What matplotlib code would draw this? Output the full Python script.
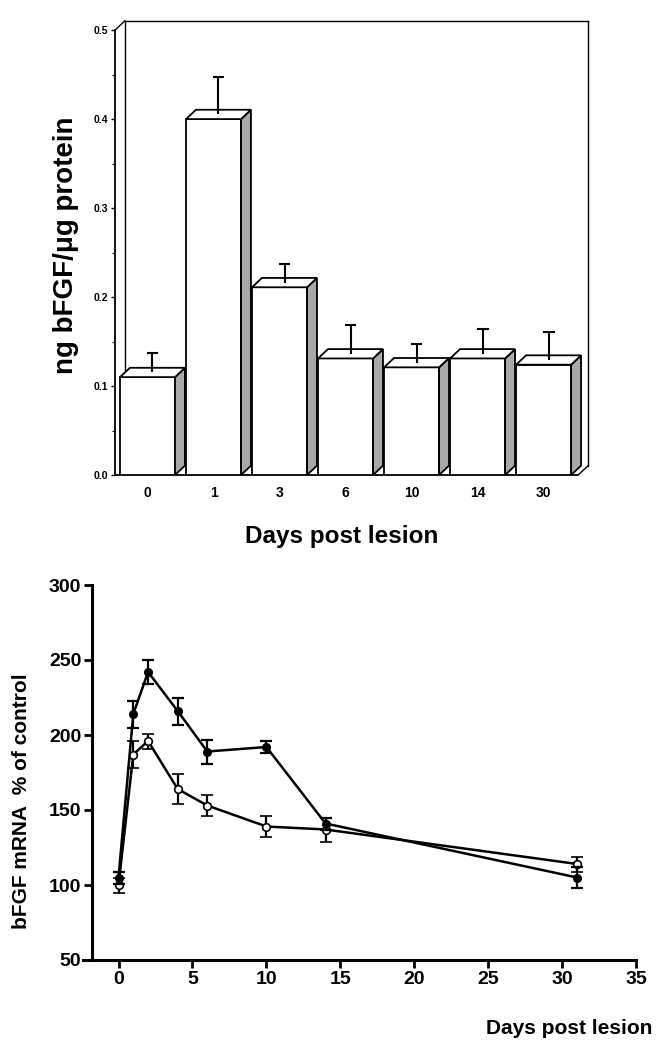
import matplotlib
matplotlib.use("Agg")
import matplotlib.pyplot as plt
import numpy as np
from matplotlib.patches import Polygon

plt.rcParams["font.family"] = ["Liberation Sans", "DejaVu Sans"]
plt.rcParams["font.weight"] = "bold"

# top panel: bFGF protein per day
day_labels = ["0", "1", "3", "6", "10", "14", "30"]
protein = [0.110, 0.400, 0.211, 0.131, 0.121, 0.131, 0.124]
protein_sem = [0.027, 0.047, 0.026, 0.038, 0.026, 0.033, 0.037]

# bottom panel: bFGF mRNA (% of control)
days = [0, 1, 2, 4, 6, 10, 14, 31]
mrna_filled = [105, 214, 242, 216, 189, 192, 141, 105]
mrna_filled_err = [4, 9, 8, 9, 8, 4, 4, 7]
mrna_open = [100, 187, 196, 164, 153, 139, 137, 114]
mrna_open_err = [5, 9, 5, 10, 7, 7, 8, 5]

W, H = 664, 1043
fig = plt.figure(figsize=(W / 100, H / 100), dpi=100)

# ---- top: pseudo-3D bar chart ----
ax1 = fig.add_axes([115 / W, 1 - 475 / H, 485 / W, 460 / H])
ax1.set_xlim(-0.076, 7.27)
ax1.set_ylim(0, 0.517)

bw = 0.833             # front face width
dx, dy = 0.15, 0.0105  # depth offset
x0 = np.arange(len(protein))
vals = np.array(protein)
lw = 1.3

# back walls of the box
xl, xr = -0.076, 6.94
ax1.plot([xl + dx, xl + dx], [0, 0.5 + dy], color="black", lw=1.0, zorder=1)
ax1.plot([xl, xl + dx], [0.5, 0.5 + dy], color="black", lw=1.0, zorder=1)
ax1.plot([xl + dx, xr + dx], [0.5 + dy, 0.5 + dy], color="black", lw=1.0, zorder=1)
ax1.plot([xr + dx, xr + dx], [0.5 + dy, dy], color="black", lw=1.0, zorder=1)
ax1.plot([xr, xr + dx], [0, dy], color="black", lw=1.0, zorder=1)

ax1.bar(x0, vals, width=bw, align="edge", facecolor="white",
        edgecolor="black", lw=lw, zorder=3)
for xi, v in zip(x0, vals):
    side = Polygon([(xi + bw, 0), (xi + bw + dx, dy), (xi + bw + dx, v + dy), (xi + bw, v)],
                   closed=True, facecolor="#a8a8a8", edgecolor="black", lw=lw, zorder=3)
    top = Polygon([(xi, v), (xi + dx, v + dy), (xi + bw + dx, v + dy), (xi + bw, v)],
                  closed=True, facecolor="white", edgecolor="black", lw=lw, zorder=3)
    ax1.add_patch(side)
    ax1.add_patch(top)

# error bars: stem from the middle of the top face, cap only at the top
ex = x0 + bw / 2 + dx / 2
etop = vals + np.array(protein_sem)
ax1.vlines(ex, vals + dy / 2, etop, color="black", lw=1.5, zorder=4)
ax1.hlines(etop, ex - 0.09, ex + 0.09, color="black", lw=1.5, zorder=4)

for s in ["top", "right"]:
    ax1.spines[s].set_visible(False)
ax1.spines["left"].set_bounds(0, 0.5)
ax1.spines["bottom"].set_bounds(xl, xr)
ax1.spines["left"].set_linewidth(1.3)
ax1.spines["bottom"].set_linewidth(1.3)
ax1.set_yticks(np.arange(0, 0.51, 0.1))
ax1.set_yticks(np.arange(0.05, 0.5, 0.1), minor=True)
ax1.set_yticklabels(["0.0", "0.1", "0.2", "0.3", "0.4", "0.5"], fontsize=7.5, fontweight="bold")
ax1.tick_params(axis="y", which="major", length=3, width=1, pad=2)
ax1.tick_params(axis="y", which="minor", length=2, width=0.8)
ax1.set_xticks(x0 + bw / 2)
ax1.set_xticklabels(day_labels, fontsize=10, fontweight="bold")
ax1.tick_params(axis="x", length=0, pad=8)

fig.text(66 / W, 1 - 245 / H, "ng bFGF/\u03bcg protein", rotation=90,
         ha="center", va="center", fontsize=20, fontweight="bold")
fig.text(342 / W, 1 - 537 / H, "Days post lesion", ha="center", va="center",
         fontsize=17.5, fontweight="bold")

# ---- bottom: mRNA time course ----
ax2 = fig.add_axes([83 / W, 1 - 960 / H, 568 / W, 382.5 / H])
ax2.set_xlim(-2.4, 36)
ax2.set_ylim(50, 305)

ax2.errorbar(days, mrna_open, yerr=mrna_open_err, color="black", lw=1.8,
             marker="o", ms=5.5, mfc="white", mec="black", mew=1.2,
             ecolor="black", elinewidth=1.6, capsize=4, capthick=1.6, zorder=3)
ax2.errorbar(days, mrna_filled, yerr=mrna_filled_err, color="black", lw=1.8,
             marker="o", ms=5.5, mfc="black", mec="black",
             ecolor="black", elinewidth=1.6, capsize=4, capthick=1.6, zorder=4)

for s in ["top", "right"]:
    ax2.spines[s].set_visible(False)
ax2.spines["left"].set_position(("data", -1.76))
ax2.spines["left"].set_bounds(50, 300)
ax2.spines["bottom"].set_bounds(-2.4, 35)
for s in ["left", "bottom"]:
    ax2.spines[s].set_linewidth(2.2)
ax2.set_xticks(np.arange(0, 36, 5))
ax2.set_yticks(np.arange(50, 301, 50))
ax2.tick_params(axis="both", length=6, width=2, labelsize=14, pad=2)
for lab in ax2.get_xticklabels() + ax2.get_yticklabels():
    lab.set_fontweight("bold")

fig.text(22 / W, 1 - 801 / H, "bFGF mRNA  % of control", rotation=90,
         ha="center", va="center", fontsize=15, fontweight="bold")
fig.text(652 / W, 1 - 1028 / H, "Days post lesion", ha="right", va="center",
         fontsize=15, fontweight="bold")

fig.savefig("out.png", dpi=100, facecolor="white")
